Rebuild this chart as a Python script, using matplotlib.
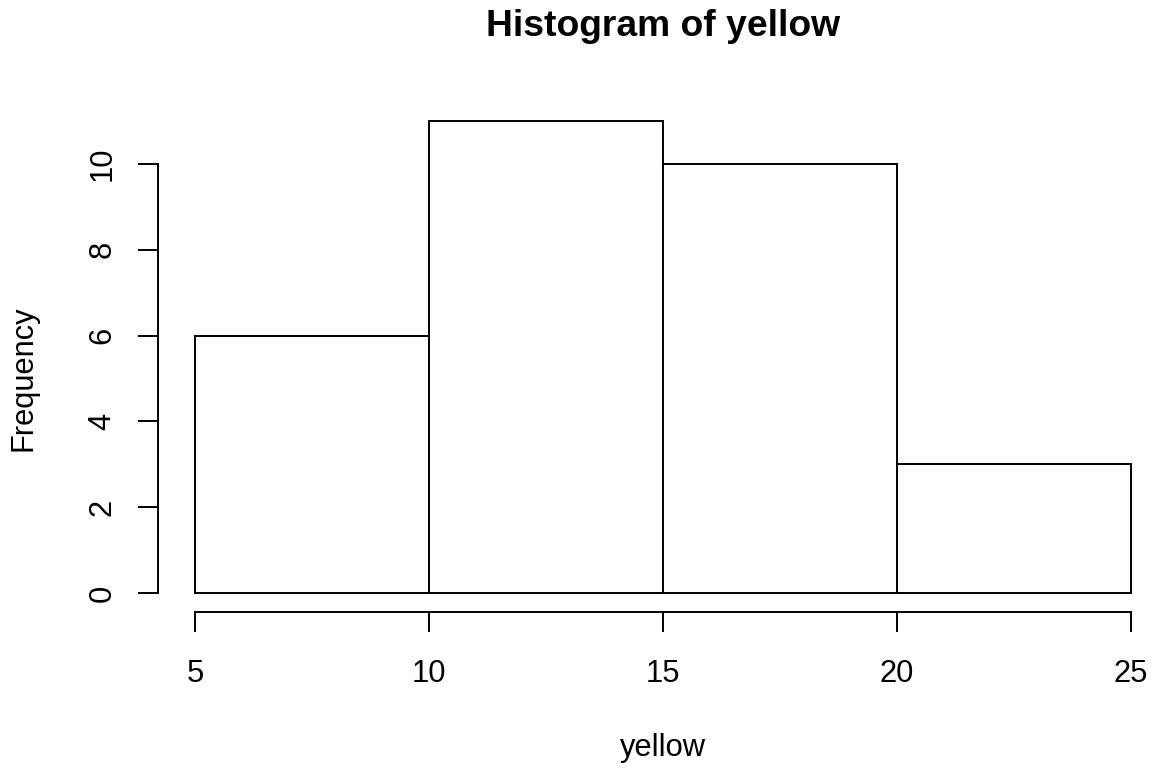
import matplotlib
matplotlib.use("Agg")
import matplotlib.pyplot as plt

# histogram bins
bin_edges = [5, 10, 15, 20, 25]
counts = [6, 11, 10, 3]
x_ticks = [5, 10, 15, 20, 25]
y_ticks = [0, 2, 4, 6, 8, 10]

plt.rcParams['font.family'] = ['Liberation Sans', 'DejaVu Sans']

W, H = 1152, 768
fig = plt.figure(figsize=(W / 100, H / 100), dpi=100)
ax = fig.add_axes([157.6 / W, 1 - 612 / H, (1168 - 157.6) / W, (612 - 102) / H])

widths = [b - a for a, b in zip(bin_edges[:-1], bin_edges[1:])]
ax.bar(bin_edges[:-1], counts, width=widths, align='edge',
       facecolor='white', edgecolor='black', linewidth=1.4)

ax.set_xlim(4.2, 25.8)
ax.set_ylim(-0.44, 11.44)
for s in ['top', 'right']:
    ax.spines[s].set_visible(False)
ax.spines['left'].set_bounds(0, 10)
ax.spines['bottom'].set_bounds(5, 25)
for s in ['left', 'bottom']:
    ax.spines[s].set_linewidth(1.4)

ax.set_xticks(x_ticks)
ax.set_yticks(y_ticks)
ax.set_yticklabels([str(v) for v in y_ticks], rotation=90, va='center')
ax.tick_params(axis='both', length=14.4, width=1.4, labelsize=22.2)
ax.tick_params(axis='x', pad=19.3)
ax.tick_params(axis='y', pad=14.5)

cx = 0.5 * (157.6 + 1168) / W
fig.text(cx, 1 - 36 / H, 'Histogram of yellow',
         ha='center', va='baseline', fontsize=26.8, fontweight='bold')
fig.text(cx, 1 - 756 / H, 'yellow',
         ha='center', va='baseline', fontsize=22.2)
fig.text(24 / W, 1 - 378 / H, 'Frequency', rotation=90,
         ha='center', va='center', fontsize=22.2)

fig.savefig('out.png', dpi=100)
